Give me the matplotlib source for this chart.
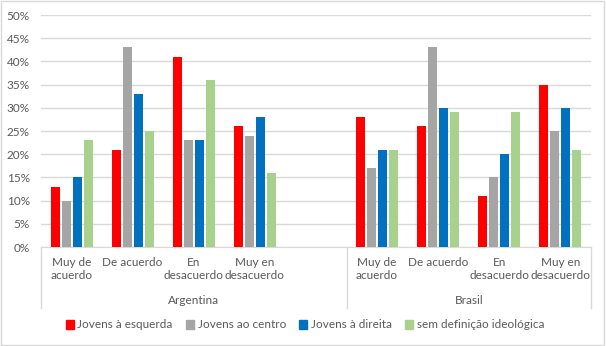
import numpy as np
import matplotlib
matplotlib.use('agg')
import matplotlib.pyplot as plt
from matplotlib.patches import Rectangle, Patch

# categorias (slot vazio entre os dois países)
categorias = ['Muy de\nacuerdo', 'De acuerdo', 'En\ndesacuerdo', 'Muy en\ndesacuerdo', '',
              'Muy de\nacuerdo', 'De acuerdo', 'En\ndesacuerdo', 'Muy en\ndesacuerdo']
paises = ['Argentina', 'Brasil']

series = ['Jovens à esquerda', 'Jovens ao centro', 'Jovens à direita', 'sem definição ideológica']
esquerda = [13, 21, 41, 26, np.nan, 28, 26, 11, 35]
centro = [10, 43, 23, 24, np.nan, 17, 43, 15, 25]
direita = [15, 33, 23, 28, np.nan, 21, 30, 20, 30]
sem_def = [23, 25, 36, 16, np.nan, 21, 29, 29, 21]

cores = ['#FF0000', '#A5A5A5', '#0070C0', '#A9D18E']
cinza_txt = '#595959'
cinza_linha = '#D9D9D9'
fs = 8.5

plt.rcParams['font.family'] = ['Lato', 'DejaVu Sans']

fig = plt.figure(figsize=(6.06, 3.46), dpi=100)
ax = fig.add_axes([41/606, 1-247/346, 550/606, 232/346])

x = np.arange(len(categorias))
passo = 0.18
larg = 0.148
dados = [esquerda, centro, direita, sem_def]
for i, vals in enumerate(dados):
    ax.bar(x + (i - 1.5)*passo, vals, width=larg, color=cores[i], label=series[i], zorder=3)

ax.set_xlim(-0.5, len(categorias) - 0.5)
ax.set_ylim(0, 50)
ax.set_yticks(np.arange(0, 51, 5))
ax.set_yticklabels([f'{v}%' for v in range(0, 51, 5)])
ax.yaxis.grid(True, color=cinza_linha, linewidth=1, zorder=0)
ax.set_axisbelow(True)
for s in ['left', 'right', 'top']:
    ax.spines[s].set_visible(False)
ax.spines['bottom'].set_color(cinza_linha)
ax.tick_params(axis='y', length=0, labelsize=fs, labelcolor=cinza_txt, pad=8)
ax.set_xticks(x)
ax.set_xticklabels(categorias, fontsize=fs, color=cinza_txt, linespacing=1.15)
ax.tick_params(axis='x', length=0, pad=7.5)

# separadores e nomes dos países
trans = ax.get_xaxis_transform()
for xs in [-0.5, 4.5, 8.5]:
    ax.plot([xs, xs], [0, -61/232], color=cinza_linha, lw=1, transform=trans, clip_on=False)
ax.text(2.0, -54/232, paises[0], transform=trans, ha='center', va='center', fontsize=fs, color=cinza_txt)
ax.text(6.5, -54/232, paises[1], transform=trans, ha='center', va='center', fontsize=fs, color=cinza_txt)

handles = [Patch(color=c) for c in cores]
fig.legend(handles, series, loc='center', bbox_to_anchor=(0.503, 1-325/346), ncol=4, frameon=False,
           fontsize=fs, labelcolor=cinza_txt, handlelength=0.7, handleheight=0.7,
           handletextpad=0.3, columnspacing=1.1)

fig.patches.append(Rectangle((0.002, 0.003), 0.995, 0.994, transform=fig.transFigure,
                             fill=False, edgecolor=cinza_linha, lw=1))

fig.savefig('out.png', dpi=100)
